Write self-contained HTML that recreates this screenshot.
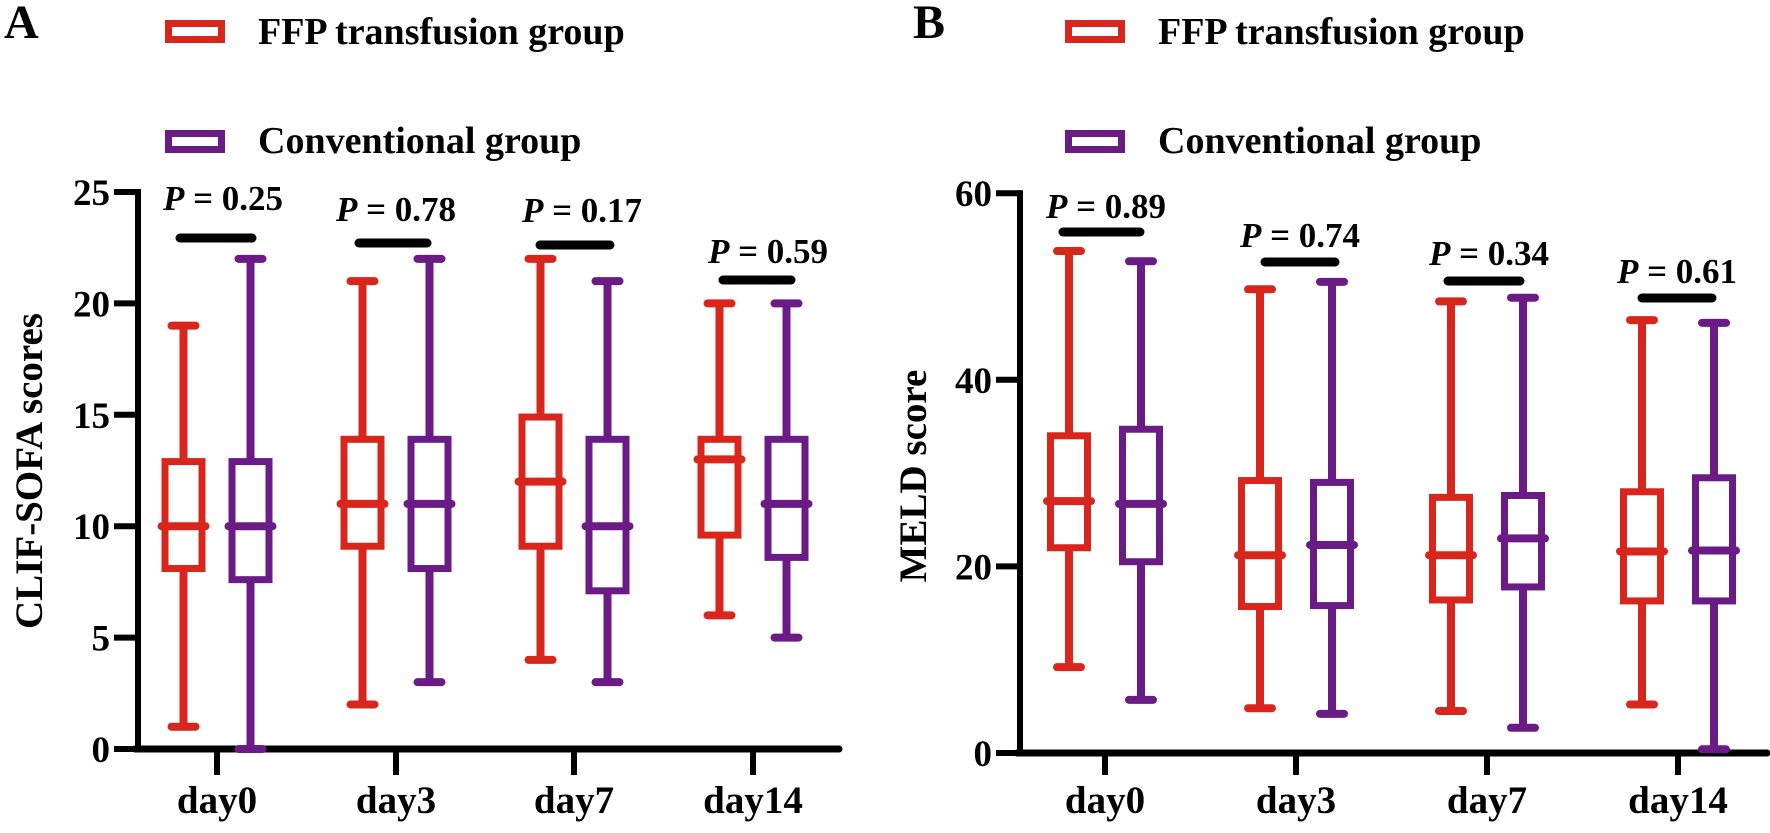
<!DOCTYPE html>
<html><head><meta charset="utf-8"><style>
html,body{margin:0;padding:0;background:#fff;width:1770px;height:833px;overflow:hidden}
svg text{font-family:"Liberation Serif",serif;font-weight:bold;fill:#000}
</style></head><body>
<svg width="1770" height="833" viewBox="0 0 1770 833" xmlns="http://www.w3.org/2000/svg">
<text x="4" y="38" font-size="48">A</text>
<text x="913" y="38" font-size="48">B</text>
<g id="plots"></g>
</svg>
<script>
const NS="http://www.w3.org/2000/svg";
const R="#d9261c",P="#6a1b86";
function el(t,a){const e=document.createElementNS(NS,t);for(const k in a)e.setAttribute(k,a[k]);document.getElementById('plots').appendChild(e);return e;}
function txt(x,y,s,size,anchor){const e=el('text',{x:x,y:y,'font-size':size,'text-anchor':anchor||'start'});e.textContent=s;return e;}
[[165,'FFP transfusion group',R,20,44],[1065,'FFP transfusion group',R,20,44],[165,'Conventional group',P,130,153],[1065,'Conventional group',P,130,153]].forEach(([x,s,c,iy,by])=>{
 el('rect',{x:x+3.5,y:iy+3.5,width:53,height:16,fill:'none',stroke:c,'stroke-width':7});
 txt(x+93,by,s,38);
});
function panel(o){
 const y=v=>o.y0-v*o.k;
 el('line',{x1:o.ax,y1:y(o.max)-3,x2:o.ax,y2:o.y0+3,stroke:'#000','stroke-width':6});
 el('line',{x1:o.ax-3,y1:o.y0,x2:o.xend,y2:o.y0,stroke:'#000','stroke-width':7,'stroke-linecap':'round'});
 o.ticks.forEach(t=>{el('line',{x1:o.ax-24,y1:y(t),x2:o.ax,y2:y(t),stroke:'#000','stroke-width':6});
  txt(o.ax-28,y(t)+13,String(t),37,'end');});
 o.xt.forEach((x,i)=>{el('line',{x1:x,y1:o.y0,x2:x,y2:775,stroke:'#000','stroke-width':6});
  txt(x,813,['day0','day3','day7','day14'][i],39,'middle');});
 const yl=txt(0,0,o.yl,39,'middle');yl.setAttribute('transform',`translate(${o.ylx},${o.yly}) rotate(-90)`);
 o.boxes.forEach(b=>{
  const c=b[1]?P:R,x=b[0],[lo,q1,md,q3,hi]=b.slice(2);
  el('line',{x1:x,y1:y(hi),x2:x,y2:y(lo),stroke:c,'stroke-width':8});
  el('line',{x1:x-12,y1:y(hi),x2:x+12,y2:y(hi),stroke:c,'stroke-width':8,'stroke-linecap':'round'});
  el('line',{x1:x-12,y1:y(lo),x2:x+12,y2:y(lo),stroke:c,'stroke-width':8,'stroke-linecap':'round'});
  el('rect',{x:x-18.5,y:y(q3),width:37,height:y(q1)-y(q3),fill:'#fff',stroke:c,'stroke-width':7});
  el('line',{x1:x-22,y1:y(md),x2:x+22,y2:y(md),stroke:c,'stroke-width':8,'stroke-linecap':'round'});
 });
 o.p.forEach(([x1,x2,by,tx,ty,s])=>{
  el('line',{x1:x1,y1:by,x2:x2,y2:by,stroke:'#000','stroke-width':9,'stroke-linecap':'round'});
  const t=txt(tx,ty,'',35,'middle');
  const a=document.createElementNS(NS,'tspan');a.setAttribute('font-style','italic');a.textContent='P';t.appendChild(a);
  const b=document.createElementNS(NS,'tspan');b.textContent=' = '+s;t.appendChild(b);
 });
}
const A=[217,396,574,753],d=33.5;
panel({ax:138,xend:839,y0:749,k:22.28,max:25,ticks:[0,5,10,15,20,25],xt:A,yl:'CLIF-SOFA scores',ylx:42,yly:471,
 boxes:[[A[0]-d,0,1,8.1,10,12.9,19],[A[0]+d,1,0,7.6,10,12.9,22],[A[1]-d,0,2,9.1,11,13.9,21],[A[1]+d,1,3,8.1,11,13.9,22],
 [A[2]-d,0,4,9.1,12,14.9,22],[A[2]+d,1,3,7.1,10,13.9,21],[A[3]-d,0,6,9.6,13,13.9,20],[A[3]+d,1,5,8.6,11,13.9,20]],
 p:[[180,252,238,223,210,'0.25'],[359,427,243,396,221,'0.78'],[540,610,245,582,222,'0.17'],[723,791,280,768,263,'0.59']]});
const B=[1105,1296,1487,1678],e=36;
panel({ax:1020,xend:1767,y0:753,k:9.33,max:60,ticks:[0,20,40,60],xt:B,yl:'MELD score',ylx:926,yly:476,
 boxes:[[B[0]-e,0,9.2,22,27,34,53.8],[B[0]+e,1,5.7,20.5,26.7,34.7,52.7],[B[1]-e,0,4.8,15.7,21.2,29.2,49.7],[B[1]+e,1,4.2,15.8,22.3,29,50.5],
 [B[2]-e,0,4.5,16.4,21.2,27.4,48.4],[B[2]+e,1,2.7,17.8,23,27.6,48.8],[B[3]-e,0,5.2,16.3,21.6,28,46.4],[B[3]+e,1,0.4,16.3,21.7,29.5,46.1]],
 p:[[1063,1140,232,1106,218,'0.89'],[1265,1335,262,1300,247,'0.74'],[1448,1520,281,1489,265,'0.34'],[1642,1712,298,1677,283,'0.61']]});
</script>
</body></html>
